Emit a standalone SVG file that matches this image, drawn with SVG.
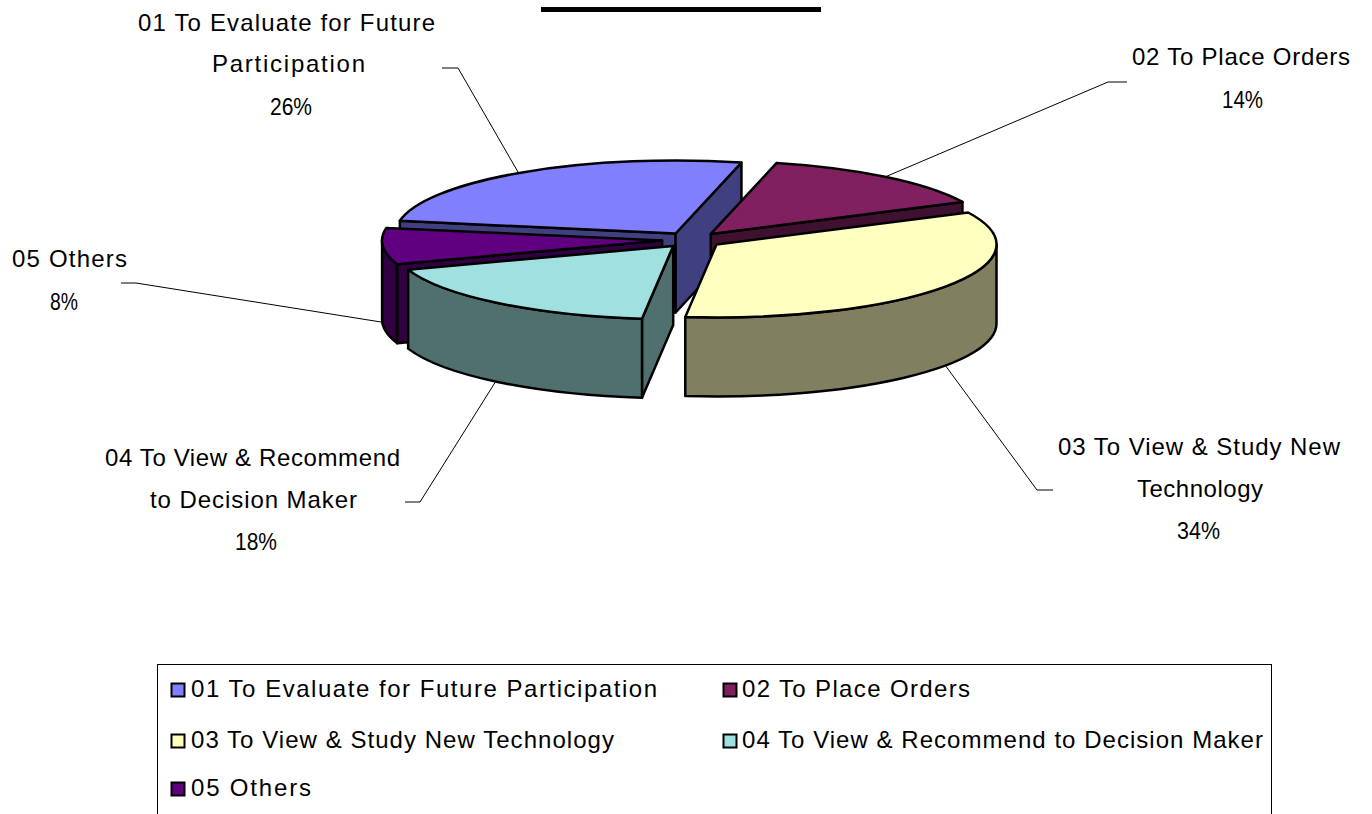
<svg xmlns="http://www.w3.org/2000/svg" width="1372" height="814" viewBox="0 0 1372 814">
<style>
.f{stroke:#000;stroke-width:2.5;stroke-linejoin:round}
.t{font-family:"Liberation Sans",Arial,sans-serif;font-size:24px;fill:#000}
.ld{fill:none;stroke:#000;stroke-width:1}
.c1{fill:#8080FF}.s1{fill:#404080}
.c2{fill:#802060}.s2{fill:#401030}
.c3{fill:#FFFFC0}.s3{fill:#808060}
.c4{fill:#A0E0E0}.s4{fill:#507070}
.c5{fill:#600080}.s5{fill:#300040}
</style>
<rect width="1372" height="814" fill="#fff"/>
<rect x="541" y="7" width="280" height="5" fill="#000"/>
<g id="slice01">
<path class="f s1" d="M675.6,233.5 L399.85,220.82 L399.85,299.82 L675.6,312.5 Z"/>
<path class="f s1" d="M675.6,233.5 L741.44,162.55 L741.44,241.55 L675.6,312.5 Z"/>
<path class="f c1" d="M675.6,233.5 L399.85,220.82 A280,73 0 0 1 741.44,162.55 Z"/>
</g>
<g id="slice02">
<path class="f s2" d="M710.8,233.9 L962.46,201.9 L962.46,280.9 L710.8,312.9 Z"/>
<path class="f c2" d="M710.8,233.9 L776.64,162.95 A280,73 0 0 1 962.46,201.9 Z"/>
</g>
<g id="slice05">
<path class="f s5" d="M662.1,240.6 L397.04,264.13 L397.04,343.13 L662.1,319.6 Z"/>
<path class="f s5" d="M397.04,264.13 A280,73 0 0 1 382.1,240.6 L382.1,319.6 A280,73 0 0 0 397.04,343.13 Z"/>
<path class="f c5" d="M662.1,240.6 L397.04,264.13 A280,73 0 0 1 386.35,227.92 Z"/>
</g>
<g id="slice04">
<path class="f s4" d="M673.2,246.1 L641.99,318.65 L641.99,397.65 L673.2,325.1 Z"/>
<path class="f s4" d="M641.99,318.65 A280,73 0 0 1 408.14,269.63 L408.14,348.63 A280,73 0 0 0 641.99,397.65 Z"/>
<path class="f c4" d="M673.2,246.1 L641.99,318.65 A280,73 0 0 1 408.14,269.63 Z"/>
</g>
<g id="slice03">
<path class="f s3" d="M996.5,244.5 A280,73 0 0 1 685.29,317.05 L685.29,396.05 A280,73 0 0 0 996.5,323.5 Z"/>
<path class="f c3" d="M716.5,244.5 L968.16,212.5 A280,73 0 0 1 685.29,317.05 Z"/>
</g>
<g id="connectors">
<polyline class="ld" points="442,68 458,68 518,172"/>
<polyline class="ld" points="1127,82 1108,82 885,177"/>
<polyline class="ld" points="1053,490 1037,490 945,365"/>
<polyline class="ld" points="405,502 420,502 496,381"/>
<polyline class="ld" points="121,283 136,283 381,322"/>
</g>
<g id="labels">
<text class="t" x="138" y="31" textLength="297" lengthAdjust="spacing">01 To Evaluate for Future</text>
<text class="t" x="212" y="72" textLength="153" lengthAdjust="spacing">Participation</text>
<text class="t" x="270" y="115" textLength="42" lengthAdjust="spacingAndGlyphs">26%</text>
<text class="t" x="1132" y="65" textLength="218" lengthAdjust="spacing">02 To Place Orders</text>
<text class="t" x="1222" y="108" textLength="41" lengthAdjust="spacingAndGlyphs">14%</text>
<text class="t" x="12" y="267" textLength="115" lengthAdjust="spacing">05 Others</text>
<text class="t" x="50" y="310" textLength="28" lengthAdjust="spacingAndGlyphs">8%</text>
<text class="t" x="105" y="466" textLength="295" lengthAdjust="spacing">04 To View &amp; Recommend</text>
<text class="t" x="150" y="508" textLength="207" lengthAdjust="spacing">to Decision Maker</text>
<text class="t" x="235" y="550" textLength="42" lengthAdjust="spacingAndGlyphs">18%</text>
<text class="t" x="1058" y="455" textLength="282" lengthAdjust="spacing">03 To View &amp; Study New</text>
<text class="t" x="1137" y="497" textLength="126" lengthAdjust="spacing">Technology</text>
<text class="t" x="1177" y="539" textLength="43" lengthAdjust="spacingAndGlyphs">34%</text>
</g>
<g id="legend">
<rect x="157.5" y="664.5" width="1114" height="200" fill="#fff" stroke="#000" stroke-width="1"/>
<rect class="c1" x="171.5" y="683.5" width="13" height="13" stroke="#000" stroke-width="2"/>
<text class="t" x="191" y="697" textLength="466" lengthAdjust="spacing">01 To Evaluate for Future Participation</text>
<rect class="c2" x="723.5" y="683.5" width="13" height="13" stroke="#000" stroke-width="2"/>
<text class="t" x="742" y="697" textLength="228" lengthAdjust="spacing">02 To Place Orders</text>
<rect class="c3" x="171.5" y="734.5" width="13" height="13" stroke="#000" stroke-width="2"/>
<text class="t" x="191" y="748" textLength="423" lengthAdjust="spacing">03 To View &amp; Study New Technology</text>
<rect class="c4" x="723.5" y="734.5" width="13" height="13" stroke="#000" stroke-width="2"/>
<text class="t" x="742" y="748" textLength="521" lengthAdjust="spacing">04 To View &amp; Recommend to Decision Maker</text>
<rect class="c5" x="171.5" y="782.5" width="13" height="13" stroke="#000" stroke-width="2"/>
<text class="t" x="191" y="796" textLength="120" lengthAdjust="spacing">05 Others</text>
</g>
</svg>
